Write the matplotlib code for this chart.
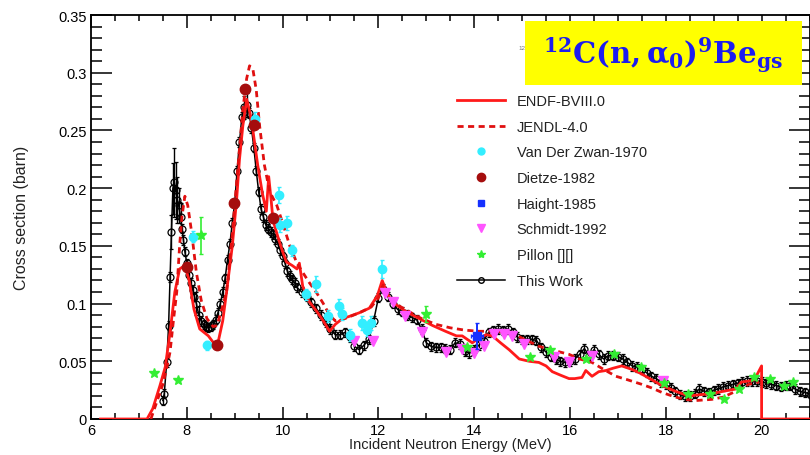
import numpy as np
import matplotlib
matplotlib.use('Agg')
import matplotlib.pyplot as plt
from matplotlib.lines import Line2D

plt.rcParams['font.family'] = ['Liberation Sans', 'DejaVu Sans']

# ENDF-BVIII.0 evaluation (solid red)
endf_e = [6.2, 7.17, 7.29, 7.44, 7.55, 7.65, 7.75, 7.85, 7.96, 8.05, 8.15, 8.27, 8.45, 8.63,
          8.75, 8.83, 8.95, 9.04, 9.1, 9.17, 9.25, 9.32, 9.38, 9.48, 9.58, 9.66, 9.71, 9.76,
          9.8, 9.9, 10.0, 10.08, 10.2, 10.3, 10.35, 10.42, 10.55, 10.7, 10.85, 10.98, 11.1,
          11.25, 11.4, 11.6, 11.81, 11.98, 12.08, 12.19, 12.3, 12.58, 12.9, 13.13, 13.4,
          13.63, 13.75, 13.96, 14.1, 14.25, 14.38, 14.55, 14.73, 14.94, 15.15, 15.35, 15.5,
          15.63, 15.8, 15.98, 16.1, 16.25, 16.33, 16.46, 16.6, 16.75, 16.9, 17.08, 17.29,
          17.45, 17.58, 17.75, 17.92, 18.2, 18.48, 18.7, 18.96, 19.2, 19.46, 19.58, 19.75,
          19.85, 20.0, 20.0, 21.0]
endf_s = [0.0, 0.0, 0.009, 0.029, 0.045, 0.075, 0.11, 0.13, 0.133, 0.12, 0.095, 0.078, 0.072, 0.062,
          0.085, 0.11, 0.15, 0.19, 0.225, 0.254, 0.277, 0.265, 0.25, 0.22, 0.195, 0.18, 0.21, 0.19,
          0.172, 0.158, 0.145, 0.136, 0.133, 0.13, 0.135, 0.115, 0.102, 0.094, 0.085, 0.076, 0.082,
          0.087, 0.089, 0.092, 0.096, 0.107, 0.12, 0.108, 0.101, 0.093, 0.086, 0.081, 0.076,
          0.072, 0.072, 0.066, 0.07, 0.073, 0.072, 0.066, 0.06, 0.052, 0.05, 0.049, 0.046,
          0.041, 0.038, 0.035, 0.035, 0.036, 0.042, 0.037, 0.041, 0.042, 0.044, 0.046, 0.043,
          0.04, 0.037, 0.033, 0.029, 0.024, 0.02, 0.021, 0.022, 0.024, 0.026, 0.032, 0.033,
          0.034, 0.046, 0.0, 0.0]

# JENDL-4.0 evaluation (dashed red)
jendl_e = [7.25, 7.35, 7.5, 7.6, 7.65, 7.72, 7.79, 7.85, 7.9, 7.96, 8.02, 8.1, 8.2, 8.3, 8.42,
           8.55, 8.63, 8.73, 8.83, 8.95, 9.05, 9.17, 9.25, 9.31, 9.38, 9.45, 9.52, 9.62, 9.73,
           9.88, 10.0, 10.15, 10.3, 10.42, 10.56, 10.7, 10.85, 10.98, 11.1, 11.3, 11.6, 11.85,
           12.0, 12.1, 12.2, 12.35, 12.6, 12.9, 13.2, 13.5, 13.8, 14.1, 14.4, 14.79, 15.0, 15.35,
           15.7, 15.98, 16.2, 16.46, 16.7, 16.96, 17.2, 17.5, 17.7, 17.92, 18.2, 18.4, 18.63,
           18.96, 19.2, 19.46, 19.73, 19.95]
jendl_s = [0.0, 0.012, 0.03, 0.048, 0.058, 0.085, 0.11, 0.15, 0.176, 0.193, 0.185, 0.162, 0.127,
           0.103, 0.087, 0.08, 0.081, 0.095, 0.11, 0.16, 0.21, 0.268, 0.295, 0.306, 0.303, 0.285,
           0.254, 0.22, 0.197, 0.185, 0.17, 0.15, 0.135, 0.127, 0.118, 0.11, 0.1, 0.09, 0.085,
           0.087, 0.092, 0.097, 0.105, 0.116, 0.108, 0.1, 0.094, 0.087, 0.082, 0.079, 0.077,
           0.076, 0.076, 0.075, 0.07, 0.063, 0.059, 0.056, 0.052, 0.049, 0.043, 0.037, 0.034,
           0.03, 0.027, 0.023, 0.019, 0.017, 0.016, 0.017, 0.019, 0.024, 0.03, 0.032]

# Van Der Zwan-1970
vdz_e = [8.12, 8.42, 9.42, 9.92, 9.94, 10.1, 10.2, 10.48, 10.69, 10.94, 11.17, 11.25, 11.4,
         11.65, 11.77, 11.85, 12.08]
vdz_s = [0.158, 0.064, 0.26, 0.194, 0.168, 0.17, 0.146, 0.108, 0.117, 0.089, 0.098, 0.091,
         0.073, 0.083, 0.077, 0.083, 0.13]
vdz_err = [0.005, 0.004, 0.006, 0.007, 0.006, 0.006, 0.005, 0.005, 0.007, 0.005, 0.006, 0.005,
           0.005, 0.006, 0.005, 0.006, 0.008]

# Dietze-1982
dietze_e = [8.0, 8.63, 8.98, 9.21, 9.4, 9.81]
dietze_s = [0.132, 0.064, 0.187, 0.286, 0.255, 0.174]

# Haight-1985
haight_e = [14.06]
haight_s = [0.072]

# Schmidt-1992
schmidt_e = [11.5, 11.88, 12.13, 12.3, 12.55, 12.92, 13.42, 13.75, 14.0, 14.2, 14.42, 14.63,
             14.79, 15.04, 15.67, 15.98, 16.46, 17.94]
schmidt_s = [0.068, 0.068, 0.109, 0.101, 0.089, 0.075, 0.058, 0.061, 0.057, 0.063, 0.074, 0.074,
             0.072, 0.065, 0.054, 0.049, 0.055, 0.033]

# Pillon
pillon_e = [7.31, 7.81, 8.29, 13.0, 13.85, 15.17, 15.58, 16.33, 16.92, 17.48, 17.96, 18.47,
            18.92, 19.22, 19.52, 19.85, 20.17, 20.46, 20.66]
pillon_s = [0.04, 0.034, 0.159, 0.091, 0.062, 0.054, 0.06, 0.052, 0.056, 0.045, 0.031, 0.022,
            0.022, 0.017, 0.026, 0.036, 0.035, 0.029, 0.032]
pillon_err = [0, 0, 0.016, 0.007, 0, 0, 0, 0, 0, 0, 0, 0, 0, 0, 0, 0, 0, 0, 0]

# This Work
tw_e = [7.50, 7.53, 7.58, 7.62, 7.65, 7.68, 7.71, 7.74, 7.77, 7.80, 7.83, 7.87, 7.90, 7.93,
        7.96, 8.0, 8.04, 8.08, 8.12, 8.16, 8.2, 8.25, 8.3, 8.35, 8.4, 8.45, 8.5, 8.55, 8.6,
        8.65, 8.7, 8.75, 8.8, 8.85, 8.9, 8.95, 9.0, 9.05, 9.1, 9.15, 9.2, 9.25, 9.3, 9.35, 9.4,
        9.45, 9.5, 9.55, 9.6, 9.65, 9.7, 9.75, 9.8, 9.85, 9.9, 9.95, 10.0, 10.05, 10.1, 10.15,
        10.2, 10.25, 10.3, 10.4, 10.5, 10.6, 10.7, 10.8, 10.9, 11.0, 11.1, 11.2, 11.3, 11.4,
        11.5, 11.6, 11.7, 11.8, 11.9, 12.0, 12.1, 12.2, 12.3, 12.4, 12.5, 12.6, 12.7, 12.8,
        12.9, 13.0, 13.1, 13.2, 13.3, 13.4, 13.5, 13.6, 13.7, 13.8, 13.9, 14.0, 14.1, 14.2,
        14.3, 14.4, 14.5, 14.6, 14.7, 14.8, 14.9, 15.0, 15.1, 15.2, 15.3, 15.4, 15.5, 15.6,
        15.7, 15.8, 15.9, 16.0, 16.1, 16.2, 16.3, 16.4, 16.5, 16.6, 16.7, 16.8, 16.9, 17.0,
        17.1, 17.2, 17.3, 17.4, 17.5, 17.6, 17.7, 17.8, 17.9, 18.0, 18.1, 18.2, 18.3, 18.4,
        18.5, 18.6, 18.7, 18.8, 18.9, 19.0, 19.1, 19.2, 19.3, 19.4, 19.5, 19.6, 19.7, 19.8,
        19.9, 20.0, 20.1, 20.2, 20.3, 20.4, 20.5, 20.6, 20.7, 20.8, 20.9, 21.0]
tw_s = [0.016, 0.022, 0.049, 0.081, 0.123, 0.162, 0.2, 0.205, 0.198, 0.19, 0.185, 0.175, 0.165,
        0.155, 0.145, 0.135, 0.125, 0.118, 0.112, 0.106, 0.1, 0.09, 0.085, 0.082, 0.08, 0.079,
        0.08, 0.082, 0.086, 0.092, 0.1, 0.11, 0.122, 0.138, 0.152, 0.17, 0.187, 0.215, 0.24,
        0.262, 0.27, 0.272, 0.265, 0.252, 0.235, 0.215, 0.197, 0.182, 0.175, 0.168, 0.165,
        0.162, 0.16, 0.156, 0.152, 0.146, 0.141, 0.135, 0.128, 0.124, 0.121, 0.118, 0.114,
        0.11, 0.106, 0.101, 0.096, 0.09, 0.084, 0.078, 0.073, 0.073, 0.075, 0.071, 0.063, 0.06,
        0.064, 0.069, 0.085, 0.105, 0.113, 0.106, 0.1, 0.095, 0.093, 0.09, 0.088, 0.086, 0.078,
        0.066, 0.063, 0.062, 0.062, 0.061, 0.06, 0.066, 0.065, 0.059, 0.057, 0.06, 0.064,
        0.068, 0.075, 0.077, 0.078, 0.077, 0.078, 0.075, 0.071, 0.069, 0.069, 0.069, 0.068,
        0.062, 0.058, 0.054, 0.052, 0.05, 0.049, 0.05, 0.052, 0.056, 0.061, 0.055, 0.06, 0.056,
        0.052, 0.055, 0.055, 0.054, 0.052, 0.049, 0.046, 0.045, 0.043, 0.04, 0.037, 0.035,
        0.032, 0.03, 0.027, 0.024, 0.021, 0.02, 0.02, 0.022, 0.026, 0.024, 0.023, 0.025, 0.026,
        0.028, 0.029, 0.03, 0.031, 0.032, 0.033, 0.033, 0.033, 0.032, 0.031, 0.03, 0.029,
        0.028, 0.029, 0.029, 0.026, 0.024, 0.023, 0.022]
# larger uncertainties around the first resonance
tw_big_e = [7.68, 7.71, 7.74, 7.77, 7.80, 7.83, 7.87, 8.2, 8.25, 9.2, 9.25]
tw_big_err = [0.015, 0.022, 0.03, 0.025, 0.02, 0.015, 0.012, 0.01, 0.008, 0.01, 0.01]

tw_err = np.full(len(tw_e), 0.004)
for e, d in zip(tw_big_e, tw_big_err):
    tw_err[tw_e.index(e)] = d

fig = plt.figure(figsize=(8.1, 4.56), dpi=100)
ax = fig.add_axes([91 / 810, 1 - 420 / 456, 718.5 / 810, 404 / 456])

# This Work
ax.errorbar(tw_e, tw_s, yerr=tw_err, color='black', lw=1.1, marker='o', ms=5, mfc='none',
            mec='black', mew=0.9, elinewidth=1.0, capsize=1.5, zorder=2)

# evaluations
ax.plot(endf_e, endf_s, color='#ff1a1a', lw=2.0, zorder=3)
ax.plot(jendl_e, jendl_s, color='#e01010', lw=2.0, ls=(0, (2.2, 1.6)), zorder=3)

# other measurements
ax.errorbar(vdz_e, vdz_s, yerr=vdz_err, fmt='o', color='#33eeff', ms=6, elinewidth=1.2,
            capsize=1.5, zorder=4)
ax.plot(dietze_e, dietze_s, 'o', color='#a50d0d', ms=7.5, zorder=5)
ax.errorbar(haight_e, haight_s, xerr=0.13, yerr=0.011, fmt='s', color='#1530ff', ms=6,
            elinewidth=1.4, capsize=1.5, zorder=5)
ax.plot(schmidt_e, schmidt_s, 'v', color='#ff55ff', ms=6.5, zorder=4)
ax.errorbar(pillon_e, pillon_s, yerr=pillon_err, fmt='*', color='#33ee33', ms=7,
            elinewidth=1.2, capsize=1.5, zorder=4)

ax.set_xlim(6, 21)
ax.set_ylim(0, 0.35)
ax.set_xticks(np.arange(6, 21, 2))
ax.set_xticks(np.arange(6, 21.01, 0.5), minor=True)
ax.set_yticks(np.arange(0, 0.351, 0.05))
ax.set_yticks(np.arange(0, 0.351, 0.01), minor=True)
ax.set_yticklabels(['0', '0.05', '0.1', '0.15', '0.2', '0.25', '0.3', '0.35'])
ax.tick_params(axis='both', which='both', direction='in', top=True, right=True,
               labelsize=10.5, width=1.1, colors='black')
ax.tick_params(axis='x', which='major', length=9, pad=3)
ax.tick_params(axis='x', which='minor', length=4.5)
ax.tick_params(axis='y', which='major', length=15, pad=3)
ax.tick_params(axis='y', which='minor', length=8)
for sp in ax.spines.values():
    sp.set_linewidth(1.3)

ax.set_xlabel('Incident Neutron Energy (MeV)', fontsize=10.5, color='#222222', labelpad=0)
ax.set_ylabel('Cross section (barn)', fontsize=11.5, color='#222222', labelpad=21)

# legend
handles = [
    Line2D([], [], color='#ff1a1a', lw=2.0),
    Line2D([], [], color='#e01010', lw=2.0, ls=(0, (2.2, 1.6))),
    Line2D([], [], ls='none', marker='o', color='#33eeff', ms=5),
    Line2D([], [], ls='none', marker='o', color='#a50d0d', ms=6),
    Line2D([], [], ls='none', marker='s', color='#1530ff', ms=5),
    Line2D([], [], ls='none', marker='v', color='#ff55ff', ms=5.5),
    Line2D([], [], ls='none', marker='*', color='#33ee33', ms=6),
    Line2D([], [], color='black', lw=1.1, marker='o', ms=4, mfc='none', mec='black'),
]
labels = ['ENDF-BVIII.0', 'JENDL-4.0', 'Van Der Zwan-1970', 'Dietze-1982', 'Haight-1985',
          'Schmidt-1992', 'Pillon [][]', 'This Work']
leg = ax.legend(handles, labels, loc='upper left', bbox_to_anchor=(457 / 810, 1 - 95 / 456),
                bbox_transform=fig.transFigure, frameon=False, fontsize=10.5,
                handlelength=3.3, handletextpad=0.8, labelspacing=0.8, borderaxespad=0,
                borderpad=0)
for t in leg.get_texts():
    t.set_color('#222222')

# reaction title in yellow box (a small copy peeks out on the left)
fig.text(518 / 810, 1 - 48 / 456, '12', fontsize=4.5, color='#777777', va='center', zorder=1)
fig.patches.append(plt.Rectangle((525 / 810, 1 - 86 / 456), 277 / 810, 64 / 456,
                                 transform=fig.transFigure, facecolor='#ffff00',
                                 edgecolor='none', zorder=5))
plt.rcParams['mathtext.fontset'] = 'dejavuserif'
fig.text(663 / 810, 1 - 55 / 456,
         r'$\mathbf{^{12}C(n,}\mathbf{\alpha_0}\mathbf{)^{9}Be_{gs}}$',
         fontsize=21, color='#1c1cf0', ha='center', va='center', zorder=6)

fig.savefig('out.png', dpi=100)
